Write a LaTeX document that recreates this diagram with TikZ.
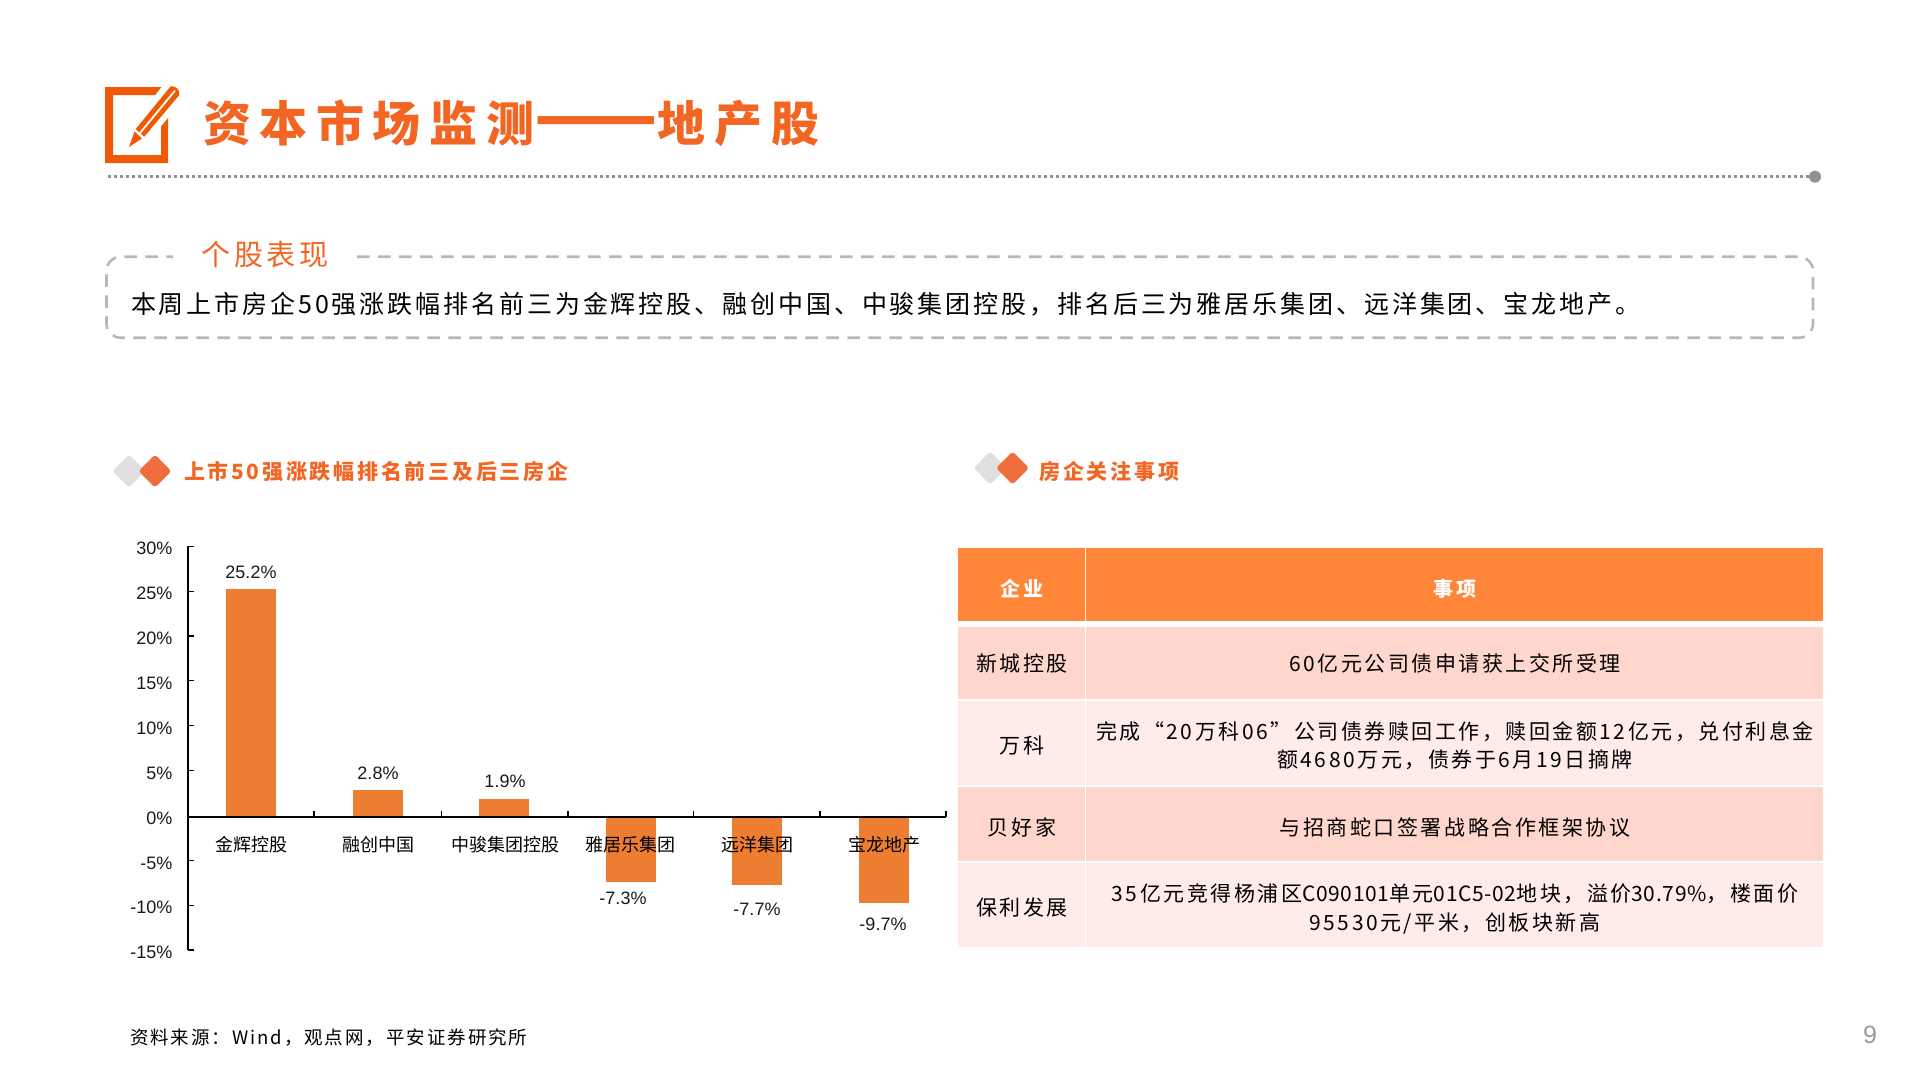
\documentclass[tikz,border=0pt]{standalone}
\usepackage{fontspec}
\setmainfont{Liberation Sans}
\newfontfamily\cjk{Noto Sans CJK SC}
\newfontfamily\cjktitle[LetterSpace=18]{Noto Sans CJK SC}
\newfontfamily\cjkhead[LetterSpace=13]{Noto Sans CJK SC}
\newfontfamily\cjkbody[LetterSpace=11.6]{Noto Sans CJK SC}
\newfontfamily\cjkcell[LetterSpace=12]{Noto Sans CJK SC}
\newfontfamily\cjktight[LetterSpace=3]{Noto Sans CJK SC}
\newfontfamily\cjkfoot[LetterSpace=10.5]{Noto Sans CJK SC}
\usetikzlibrary{positioning,shapes.geometric}
\definecolor{titlered}{HTML}{F26522}
\definecolor{iconred}{HTML}{F05A05}
\definecolor{barorange}{HTML}{ED7D31}
\definecolor{headorange}{HTML}{FF8638}
\definecolor{rowdark}{HTML}{FFD6CC}
\definecolor{rowlight}{HTML}{FFEBE8}
\definecolor{dashgrey}{HTML}{B7B7B7}
\definecolor{markgrey}{HTML}{E0E0E0}
\definecolor{markred}{HTML}{F26D3D}
\begin{document}
\begin{tikzpicture}[x=1pt,y=-1pt]
    \tikzstyle{every node}=[inner sep=0,outer sep=0]
    \tikzstyle{axlabel}=[font=\fontsize{18}{20}\selectfont,text=black!90,anchor=east]
    \tikzstyle{barvalue}=[font=\fontsize{18}{20}\selectfont,text=black!90]
    \tikzstyle{catname}=[font=\cjk\fontsize{18}{20}\selectfont,text=black]
    \tikzstyle{barbox}=[fill=barorange,minimum width=50]
    \tikzstyle{chip}=[diamond,minimum width=33,minimum height=33,rounded corners=3]
    \tikzstyle{headline}=[font=\cjkhead\bfseries\fontsize{21}{24}\selectfont,text=titlered,anchor=west]
    \tikzstyle{firstcol}=[minimum width=127]
    \tikzstyle{secondcol}=[minimum width=736.5]
    \tikzstyle{celltext}=[align=center,font=\cjkcell\fontsize{21}{28.5}\selectfont,text=black]
    \tikzstyle{toptext}=[font=\cjkcell\bfseries\fontsize{20}{24}\selectfont,text=white]
    \useasboundingbox (0,0) rectangle (1920,1080);

    % title
    \fill[iconred,even odd rule] (105,87) rectangle (168,163) (113,95) rectangle (161,155);
    \fill[white] (178,80) -- (186,96) -- (148,142) -- (124,153) -- (133,124) -- (167,80) -- cycle;
    \fill[iconred] (170.7,86.3) .. controls (176,85.5) and (180,90) .. (179.3,95) -- (144.3,136.7) -- (135.7,129) -- cycle;
    \fill[iconred] (134.5,131.5) -- (142,138.5) -- (129,147) -- cycle;
    \draw[white,line width=1.8] (175,90.6) -- (140,133);
    \node[font=\cjktitle\bfseries\fontsize{48}{52}\selectfont,text=titlered,anchor=west] (title) at (203,123)
        {资本市场监测{\cjk\fontsize{72}{52}\selectfont ——}地产股};
    \node[circle,fill=black!43,minimum size=12] (ruleend) at (1815,176.7) {};
    \coordinate (rulestart) at (108,176.7);
    \draw[black!43,line width=3,dash pattern=on 3 off 3] (rulestart) -- (ruleend);

    % summary box
    \draw[dashgrey,line width=2.6,dash pattern=on 12.5 off 8.5,rounded corners=14]
        (357,256.7) -- (1813,256.7) -- (1813,337.7) -- (106.5,337.7) -- (106.5,256.7) -- (173,256.7);
    \node[font=\cjkhead\fontsize{29}{30}\selectfont,text=titlered] (boxlabel) at (265,255) {个股表现};
    \node[font=\cjkbody\fontsize{25}{28}\selectfont,text=black,anchor=west] (boxtext) at (131,304)
        {本周上市房企50强涨跌幅排名前三为金辉控股、融创中国、中骏集团控股，排名后三为雅居乐集团、远洋集团、宝龙地产。};

    % section heads
    \node[chip,fill=markgrey] (markl1) at (129,471) {};
    \node[chip,fill=markred] (markl2) at (155,471) {};
    \node[headline] (headl) at (184,472) {上市50强涨跌幅排名前三及后三房企};
    \node[chip,fill=markgrey] (markr1) at (990,468) {};
    \node[chip,fill=markred] (markr2) at (1012.5,468) {};
    \node[headline] (headr) at (1039.5,472) {房企关注事项};

    % bars
    \node[barbox,anchor=south,minimum height=228] (bar1) at (250.5,816.8) {};
    \node[barbox,anchor=south,minimum height=26.4] (bar2) at (378,816.8) {};
    \node[barbox,anchor=south,minimum height=17.8] (bar3) at (504,816.8) {};
    \node[barbox,anchor=north,minimum height=65.2] (bar4) at (631,816.8) {};
    \node[barbox,anchor=north,minimum height=68.2] (bar5) at (757,816.8) {};
    \node[barbox,anchor=north,minimum height=86.2] (bar6) at (883.5,816.8) {};

    % axes
    \coordinate (ytop) at (188,546.4);
    \coordinate (ybot) at (188,950);
    \coordinate (xleft) at (188,816.8);
    \coordinate (xright) at (946,816.8);
    \draw[black,line width=1.4] (ytop) -- (ybot) (xleft) -- (xright);
    \draw[black,line width=1.2]
        (188,546.4) -- +(6,0) (188,591.2) -- +(6,0) (188,636) -- +(6,0) (188,680.8) -- +(6,0)
        (188,725.6) -- +(6,0) (188,770.4) -- +(6,0) (188,860.6) -- +(6,0) (188,905.4) -- +(6,0)
        (188,950) -- +(6,0)
        (314,816.8) -- +(0,-6) (441.7,816.8) -- +(0,-6) (568,816.8) -- +(0,-6)
        (693.5,816.8) -- +(0,-6) (820,816.8) -- +(0,-6) (946,816.8) -- +(0,-6);
    \node[axlabel] (t30) at (172.5,548) {30\%};
    \node[axlabel] (t25) at (172.5,593) {25\%};
    \node[axlabel] (t20) at (172.5,638) {20\%};
    \node[axlabel] (t15) at (172.5,683) {15\%};
    \node[axlabel] (t10) at (172.5,728) {10\%};
    \node[axlabel] (t5) at (172.5,773) {5\%};
    \node[axlabel] (t0) at (172.5,818) {0\%};
    \node[axlabel] (tm5) at (172.5,863) {-5\%};
    \node[axlabel] (tm10) at (172.5,907) {-10\%};
    \node[axlabel] (tm15) at (172.5,952) {-15\%};

    \node[barvalue] (v1) at (251,572) {25.2\%};
    \node[barvalue] (v2) at (378,773) {2.8\%};
    \node[barvalue] (v3) at (505,781) {1.9\%};
    \node[barvalue] (v4) at (623,898) {-7.3\%};
    \node[barvalue] (v5) at (757,909) {-7.7\%};
    \node[barvalue] (v6) at (883,924) {-9.7\%};

    \node[catname] (c1) at (251.5,845) {金辉控股};
    \node[catname] (c2) at (378,845) {融创中国};
    \node[catname] (c3) at (505,845) {中骏集团控股};
    \node[catname] (c4) at (630,845) {雅居乐集团};
    \node[catname] (c5) at (757,845) {远洋集团};
    \node[catname] (c6) at (884,845) {宝龙地产};

    % table
    \node[firstcol,fill=headorange,minimum height=73.5] (corp) at (1021,584.5) {};
    \node[secondcol,fill=headorange,minimum height=73.5] (item) at (1454.7,584.5) {};
    \node[firstcol,fill=rowdark,minimum height=72] (a1) at (1021,663) {};
    \node[secondcol,fill=rowdark,minimum height=72] (b1) at (1454.7,663) {};
    \node[firstcol,fill=rowlight,minimum height=84] (a2) at (1021,743) {};
    \node[secondcol,fill=rowlight,minimum height=84] (b2) at (1454.7,743) {};
    \node[firstcol,fill=rowdark,minimum height=74] (a3) at (1021,824) {};
    \node[secondcol,fill=rowdark,minimum height=74] (b3) at (1454.7,824) {};
    \node[firstcol,fill=rowlight,minimum height=83.5] (a4) at (1021,905) {};
    \node[secondcol,fill=rowlight,minimum height=83.5] (b4) at (1454.7,905) {};

    \node[toptext] (corpt) at (1022,588.5) {企业};
    \node[toptext] (itemt) at (1455,588.5) {事项};
    \node[celltext] (a1t) at (1022,663.5) {新城控股};
    \node[celltext] (b1t) at (1455,663.5) {60亿元公司债申请获上交所受理};
    \node[celltext] (a2t) at (1022,745.5) {万科};
    \node[celltext] (b2t) at (1455,745.5)
        {完成“20万科06”公司债券赎回工作，赎回金额12亿元，兑付利息金\\额4680万元，债券于6月19日摘牌};
    \node[celltext] (a3t) at (1022,827.5) {贝好家};
    \node[celltext] (b3t) at (1455,827.5) {与招商蛇口签署战略合作框架协议};
    \node[celltext] (a4t) at (1022,907.5) {保利发展};
    \node[celltext] (b4t) at (1455,909)
        {35亿元竞得杨浦区{\cjktight C090101}单元{\cjktight 01C5-02}地块，溢价{\cjktight 30.79\%}，楼面价\\95530元/平米，创板块新高};

    % footer
    \node[font=\cjkfoot\fontsize{18.5}{20}\selectfont,text=black,anchor=west] (source) at (130,1038) {资料来源：Wind，观点网，平安证券研究所};
    \node[font=\fontsize{25}{28}\selectfont,text=black!40] (page) at (1870,1035) {9};
\end{tikzpicture}
\end{document}
